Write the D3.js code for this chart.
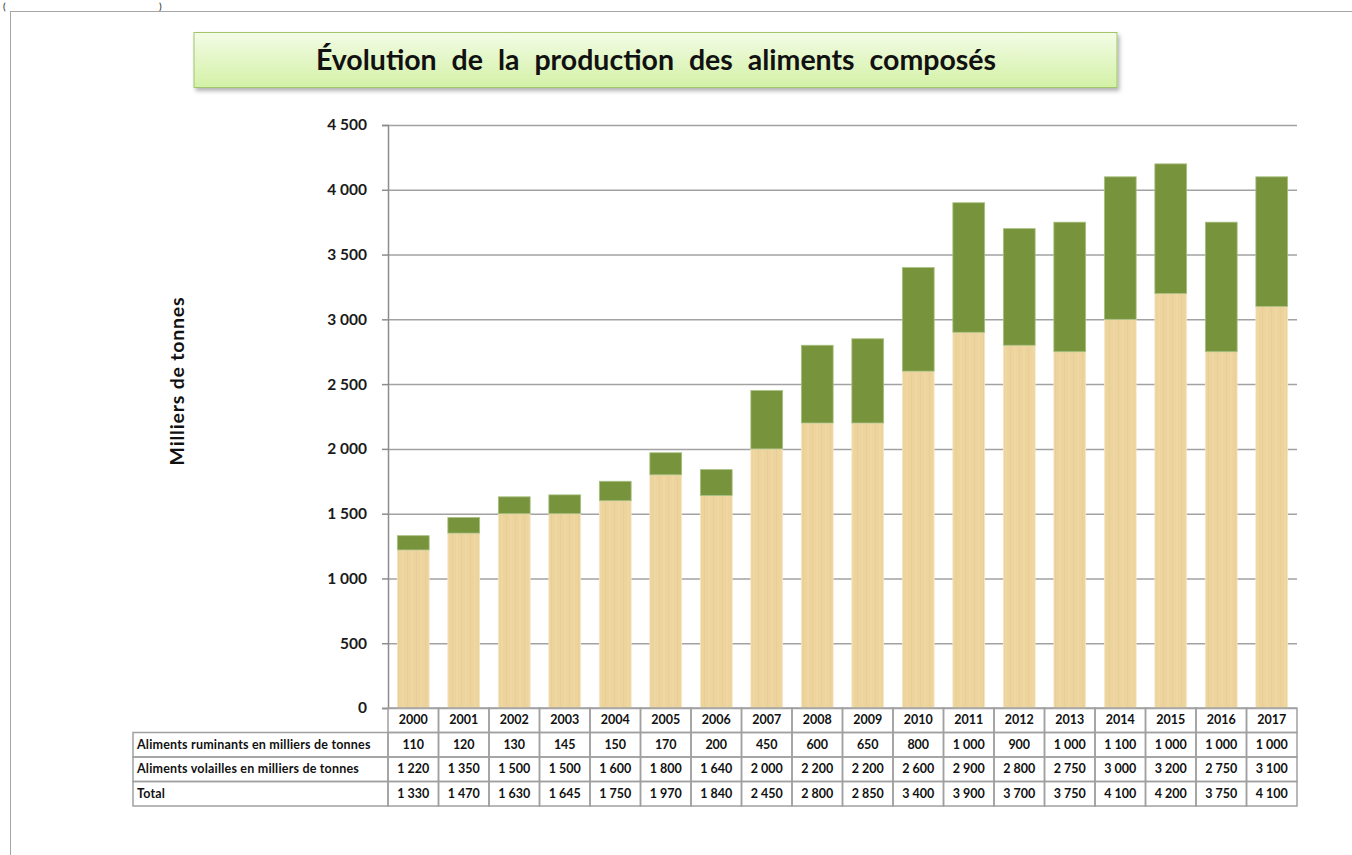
<!DOCTYPE html>
<html>
<head>
    <meta charset="utf-8">
    <script src="https://d3js.org/d3.v7.min.js"></script>
</head>

<style>
body {
    margin: 0;
    background: #ffffff;
    font-family: Lato, "Open Sans", sans-serif;
}
</style>

<body>
<div id="chart"></div>

<script>
    var years = ["2000", "2001", "2002", "2003", "2004", "2005", "2006", "2007", "2008",
                 "2009", "2010", "2011", "2012", "2013", "2014", "2015", "2016", "2017"];
    var ruminants = [110, 120, 130, 145, 150, 170, 200, 450, 600, 650, 800, 1000, 900, 1000, 1100, 1000, 1000, 1000];
    var volailles = [1220, 1350, 1500, 1500, 1600, 1800, 1640, 2000, 2200, 2200, 2600, 2900, 2800, 2750, 3000, 3200, 2750, 3100];
    var totals = [1330, 1470, 1630, 1645, 1750, 1970, 1840, 2450, 2800, 2850, 3400, 3900, 3700, 3750, 4100, 4200, 3750, 4100];
    var rowLabels = ["Aliments ruminants en milliers de tonnes", "Aliments volailles en milliers de tonnes", "Total"];
    var yTicks = [0, 500, 1000, 1500, 2000, 2500, 3000, 3500, 4000, 4500];

    var W = 1352, H = 855;
    var plot = {left: 388, right: 1297, top: 125, bottom: 708};
    var rowH = 24.5;

    var fr = d3.formatLocale({decimal: ",", thousands: " ", grouping: [3], currency: ["", " €"]});
    var fmt = fr.format(",d");

    var svg = d3.select("#chart").append("svg")
        .attr("width", W)
        .attr("height", H);

    var defs = svg.append("defs");

    // title box gradient + shadow
    var grad = defs.append("linearGradient")
        .attr("id", "titleGrad")
        .attr("x1", 0).attr("y1", 0).attr("x2", 0).attr("y2", 1);
    grad.append("stop").attr("offset", "0%").attr("stop-color", "#f3fce6");
    grad.append("stop").attr("offset", "100%").attr("stop-color", "#d3f1a6");

    var shadow = defs.append("filter").attr("id", "shadow")
        .attr("x", "-5%").attr("y", "-20%").attr("width", "110%").attr("height", "150%");
    shadow.append("feDropShadow")
        .attr("dx", 2).attr("dy", 3).attr("stdDeviation", 2)
        .attr("flood-color", "#000").attr("flood-opacity", 0.3);

    // light papyrus-like texture for the volailles segments
    var pat = defs.append("pattern")
        .attr("id", "papyrus")
        .attr("patternUnits", "userSpaceOnUse")
        .attr("width", 9).attr("height", 40);
    pat.append("rect").attr("width", 9).attr("height", 40).attr("fill", "#edd39c");
    pat.append("rect").attr("x", 2).attr("width", 1).attr("height", 40).attr("fill", "#e9cf97");
    pat.append("rect").attr("x", 6).attr("width", 2).attr("height", 40).attr("fill", "#efd7a3");

    // bits of the page around the chart
    svg.append("text").attr("x", 3).attr("y", 10).attr("font-size", 10).attr("fill", "#222").text("(");
    svg.append("text").attr("x", 159).attr("y", 10).attr("font-size", 10).attr("fill", "#222").text(")");
    svg.append("rect")
        .attr("x", 10.5).attr("y", 11.5)
        .attr("width", W + 20).attr("height", H + 20)
        .attr("fill", "none")
        .attr("stroke", "#a6a6a6");

    // Title
    svg.append("rect")
        .attr("x", 194).attr("y", 32.5)
        .attr("width", 923).attr("height", 55)
        .attr("fill", "url(#titleGrad)")
        .attr("stroke", "#a2c56c")
        .attr("filter", "url(#shadow)");
    svg.append("text")
        .attr("x", 656).attr("y", 70)
        .attr("text-anchor", "middle")
        .attr("font-size", 28.5)
        .attr("font-weight", "bold")
        .attr("word-spacing", 8)
        .attr("fill", "#111")
        .text("Évolution de la production des aliments composés");

    // Scales
    var x = d3.scaleBand()
        .domain(years)
        .range([plot.left, plot.right])
        .paddingInner(0.37)
        .paddingOuter(0.185);
    var y = d3.scaleLinear()
        .domain([0, 4500])
        .range([plot.bottom, plot.top]);

    // Gridlines
    svg.append("g")
        .attr("transform", "translate(" + plot.left + ",0)")
        .call(d3.axisLeft(y).tickValues(yTicks).tickSize(-(plot.right - plot.left)).tickFormat(""))
        .call(g => g.select(".domain").remove())
        .selectAll("line")
        .attr("stroke", "#a2a2a2")
        .attr("stroke-width", 1.5);

    // Bars
    var bars = svg.append("g");
    bars.selectAll("rect.vol")
        .data(years)
        .enter().append("rect")
        .attr("class", "vol")
        .attr("x", d => x(d))
        .attr("width", x.bandwidth())
        .attr("y", (d, i) => y(volailles[i]))
        .attr("height", (d, i) => y(0) - y(volailles[i]))
        .attr("fill", "url(#papyrus)")
        .attr("stroke", "#f6e8c6")
        .attr("stroke-width", 0.8);
    bars.selectAll("rect.rum")
        .data(years)
        .enter().append("rect")
        .attr("class", "rum")
        .attr("x", d => x(d))
        .attr("width", x.bandwidth())
        .attr("y", (d, i) => y(volailles[i] + ruminants[i]))
        .attr("height", (d, i) => y(volailles[i]) - y(volailles[i] + ruminants[i]))
        .attr("fill", "#77933c")
        .attr("stroke", "#a9c080")
        .attr("stroke-width", 0.8);

    // Y axis
    var yAxis = svg.append("g")
        .attr("transform", "translate(" + plot.left + ",0)")
        .call(d3.axisLeft(y).tickValues(yTicks).tickSize(6).tickPadding(15).tickFormat(fmt));
    yAxis.select(".domain").attr("stroke", "#8c8c8c").attr("stroke-width", 1.5);
    yAxis.selectAll("line").attr("stroke", "#8c8c8c").attr("stroke-width", 1.5);
    yAxis.selectAll("text")
        .attr("font-family", "Lato, sans-serif")
        .attr("font-size", 15.5)
        .attr("font-weight", "bold")
        .attr("fill", "#1a1a1a");

    svg.append("text")
        .attr("transform", "translate(184,381) rotate(-90)")
        .attr("text-anchor", "middle")
        .attr("font-size", 19.5)
        .attr("font-weight", "bold")
        .attr("letter-spacing", 0.8)
        .attr("fill", "#111")
        .text("Milliers de tonnes");

    // Data table under the chart
    var step = x.step();
    var gap = (step - x.bandwidth()) / 2;
    var table = svg.append("g");
    var lineColor = "#a0a0a0";

    // header row (years only)
    table.selectAll("rect.head")
        .data(years)
        .enter().append("rect")
        .attr("class", "head")
        .attr("x", d => x(d) - gap)
        .attr("y", plot.bottom)
        .attr("width", step)
        .attr("height", rowH)
        .attr("fill", "none")
        .attr("stroke", lineColor)
        .attr("stroke-width", 1.5);
    table.selectAll("text.head")
        .data(years)
        .enter().append("text")
        .attr("class", "head")
        .attr("x", d => x(d) + x.bandwidth() / 2)
        .attr("y", plot.bottom + rowH / 2 + 4)
        .attr("text-anchor", "middle")
        .attr("font-size", 12.5)
        .attr("font-weight", "bold")
        .attr("fill", "#111")
        .text(d => d);

    var rows = [ruminants, volailles, totals];
    rows.forEach(function(vals, r) {
        var top = plot.bottom + rowH * (r + 1);
        table.append("rect")
            .attr("x", 133)
            .attr("y", top)
            .attr("width", plot.left - 133)
            .attr("height", rowH)
            .attr("fill", "none")
            .attr("stroke", lineColor)
            .attr("stroke-width", 1.5);
        table.append("text")
            .attr("x", 137)
            .attr("y", top + rowH / 2 + 4)
            .attr("font-size", 12.5)
            .attr("font-weight", "bold")
            .attr("letter-spacing", 0.2)
            .attr("fill", "#111")
            .text(rowLabels[r]);
        table.selectAll("rect.r" + r)
            .data(years)
            .enter().append("rect")
            .attr("class", "r" + r)
            .attr("x", d => x(d) - gap)
            .attr("y", top)
            .attr("width", step)
            .attr("height", rowH)
            .attr("fill", "none")
            .attr("stroke", lineColor)
            .attr("stroke-width", 1.5);
        table.selectAll("text.r" + r)
            .data(years)
            .enter().append("text")
            .attr("class", "r" + r)
            .attr("x", d => x(d) + x.bandwidth() / 2)
            .attr("y", top + rowH / 2 + 4)
            .attr("text-anchor", "middle")
            .attr("font-size", 12.5)
            .attr("font-weight", "bold")
            .attr("fill", "#111")
            .text((d, i) => fmt(vals[i]));
    });
</script>
</body>
</html>
